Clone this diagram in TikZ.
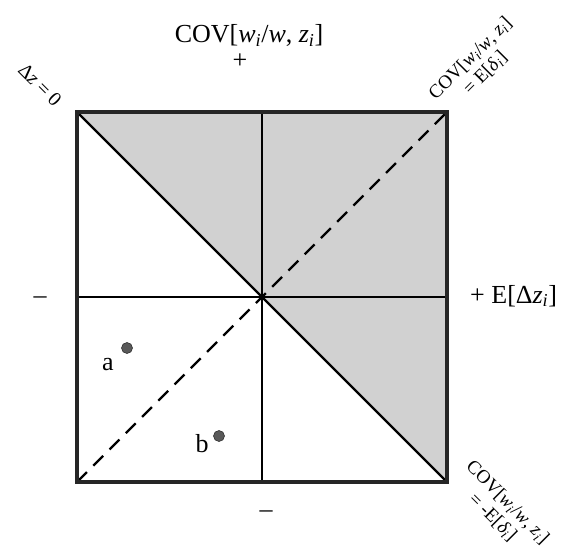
\documentclass[tikz,border=0pt]{standalone}
\usepackage{fontspec}
\setmainfont{Liberation Serif}
\newcommand{\covlabel}{COV[\textit{w}\textsubscript{\textit{i}}/\textit{w}, \textit{z}\textsubscript{\textit{i}}]}
\begin{document}
\begin{tikzpicture}[x=1pt,y=-1pt,
  bigtext/.style={font=\fontsize{26}{30}\selectfont, inner sep=0pt},
  diagtext/.style={font=\fontsize{19}{21}\selectfont, inner sep=0pt, align=center},
  frame/.style={line width=4.5pt, draw=black!85},
  divider/.style={line width=2.2pt, draw=black},
  dashdiag/.style={line width=2.2pt, draw=black, dash pattern=on 14pt off 9pt},
  shade/.style={fill=black!18},
  dot/.style={circle, fill=black!65, draw=black!80, line width=0.6pt, minimum size=11pt, inner sep=0pt}]
\useasboundingbox (0,0) rectangle (580,556);
% corners and midpoints
\coordinate (tl) at (77,112);
\coordinate (tr) at (447,112);
\coordinate (br) at (447,482);
\coordinate (bl) at (77,482);
\coordinate (c) at (262,297);
\coordinate (tm) at (262,112);
\coordinate (bm) at (262,482);
\coordinate (lm) at (77,297);
\coordinate (rm) at (447,297);
% shaded region
\fill[shade] (tl) -- (tr) -- (br) -- cycle;
% dividers
\draw[divider] (tm) -- (bm);
\draw[divider] (lm) -- (rm);
\draw[divider] (tl) -- (br);
\draw[dashdiag] (bl) -- (tr);
% frame
\draw[frame] (tl) rectangle (br);
% dots
\node[dot] (pa) at (127,348) {};
\node[dot] (pb) at (219,436) {};
\node[bigtext, anchor=base] (la) at (108,370) {a};
\node[bigtext, anchor=base] (lb) at (202,452) {b};
% axis labels
\node[bigtext, anchor=base] (top) at (249,43) {\covlabel};
\node[bigtext] (plus) at (240,61) {+};
\node[bigtext, anchor=west] (right) at (470,296) {+ E[Δ\textit{z}\textsubscript{\textit{i}}]};
\node[bigtext] (minusl) at (40,300) {–};
\node[bigtext] (minusb) at (266,514) {–};
% diagonal labels
\node[diagtext, rotate=-45, font=\fontsize{20}{22}\selectfont] (dz) at (40,85) {Δ\textit{z} = 0};
\node[diagtext, rotate=45] (tri) at (478,66) {\covlabel\\ = E[\textit{δ}\textsubscript{\textit{i}}]};
\node[diagtext, rotate=-45] (bri) at (500,510) {\covlabel\\ = -E[\textit{δ}\textsubscript{\textit{i}}]};
\end{tikzpicture}
\end{document}
